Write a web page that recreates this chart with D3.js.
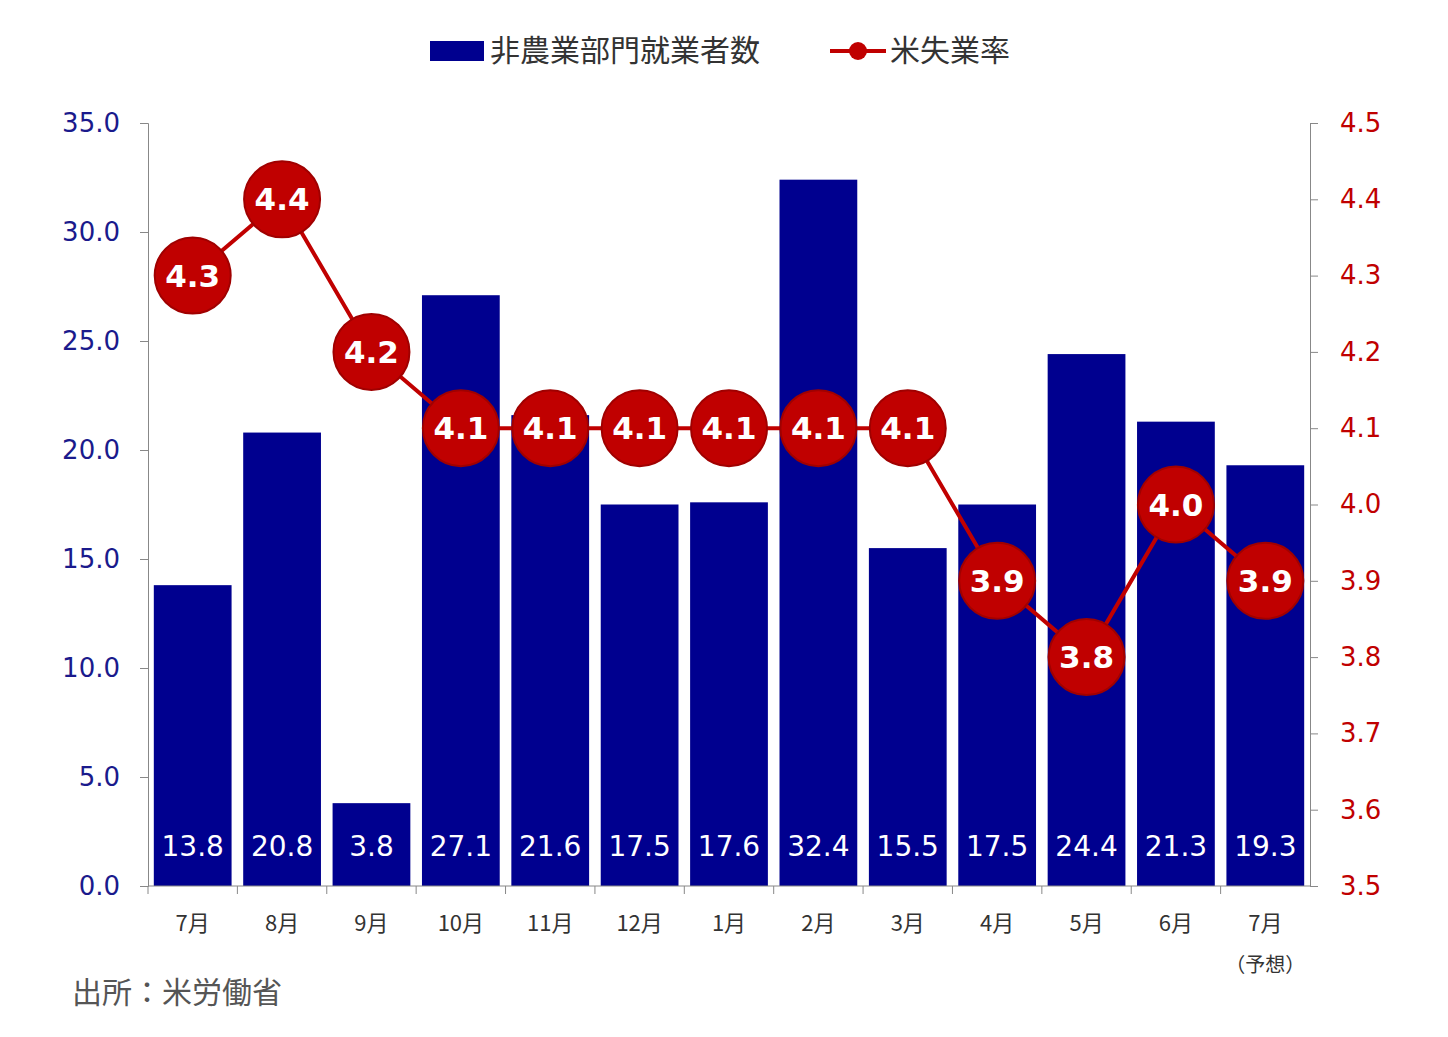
<!DOCTYPE html><html><head><meta charset="utf-8">
<script src="https://cdn.jsdelivr.net/npm/d3@7"></script>
<style>body{margin:0;background:#fff}</style></head><body>
<svg id="c" width="1448" height="1037"></svg>
<script>
const months=["7月","8月","9月","10月","11月","12月","1月","2月","3月","4月","5月","6月","7月"];
const payrolls=[13.8,20.8,3.8,27.1,21.6,17.5,17.6,32.4,15.5,17.5,24.4,21.3,19.3];
const unemp=[4.3,4.4,4.2,4.1,4.1,4.1,4.1,4.1,4.1,3.9,3.8,4.0,3.9];
const leftTicks=[0,5,10,15,20,25,30,35];
const rightTicks=[3.5,3.6,3.7,3.8,3.9,4.0,4.1,4.2,4.3,4.4,4.5];
const svg=d3.select("#c");
const F="'DejaVu Sans',Verdana,sans-serif", J="'Noto Sans CJK JP',sans-serif";
const L=148,R=1310,T=123,B=886;
const x=d3.scaleBand().domain(d3.range(months.length)).range([L,R]).paddingInner(0.13).paddingOuter(0.065);
const yL=d3.scaleLinear().domain([0,35]).range([B,T]);
const yR=d3.scaleLinear().domain([3.5,4.5]).range([B,T]);
const blue="#00008f",red="#c00000";
svg.selectAll(".bar").data(payrolls).enter().append("rect").attr("x",(d,i)=>x(i)).attr("width",x.bandwidth()).attr("y",d=>yL(d)).attr("height",d=>B-yL(d)).attr("fill",blue);
svg.selectAll(".bl").data(payrolls).enter().append("text").attr("x",(d,i)=>x(i)+x.bandwidth()/2).attr("y",856).attr("text-anchor","middle").attr("fill","#fff").attr("font-family",F).attr("font-size",28).text(d=>d.toFixed(1));
// axes
const gl=svg.append("g").attr("transform",`translate(${L},0)`).call(d3.axisLeft(yL).tickValues(leftTicks).tickSize(8).tickFormat(d3.format(".1f")));
gl.selectAll("text").attr("fill","#1a1a8c").attr("font-family",F).attr("font-size",26).attr("x",-28);
const gr=svg.append("g").attr("transform",`translate(${R},0)`).call(d3.axisRight(yR).tickValues(rightTicks).tickSize(8).tickFormat(d3.format(".1f")));
gr.selectAll("text").attr("fill",red).attr("font-family",F).attr("font-size",26).attr("x",30);
[gl,gr].forEach(g=>{g.selectAll("line,path").attr("stroke","#888");});
svg.append("line").attr("x1",L).attr("x2",R).attr("y1",B).attr("y2",B).attr("stroke","#888");
const step=x.step();
months.forEach((m,i)=>{
  const bx=x(i)-x.paddingInner()*step/2;
  svg.append("line").attr("x1",bx).attr("x2",bx).attr("y1",B).attr("y2",B+8).attr("stroke","#888");
  svg.append("text").attr("x",x(i)+x.bandwidth()/2).attr("y",931).attr("text-anchor","middle").attr("font-family",J).attr("font-size",22).attr("fill","#333").text(m);
});
svg.append("text").attr("x",x(12)+x.bandwidth()/2).attr("y",972).attr("text-anchor","middle").attr("font-family",J).attr("font-size",20).attr("fill","#333").text("（予想）");
// line
const cx=i=>x(i)+x.bandwidth()/2;
svg.append("path").datum(unemp).attr("d",d3.line().x((d,i)=>cx(i)).y(d=>yR(d))).attr("fill","none").attr("stroke",red).attr("stroke-width",4);
const pts=svg.selectAll(".pt").data(unemp).enter().append("g");
pts.append("circle").attr("cx",(d,i)=>cx(i)).attr("cy",d=>yR(d)).attr("r",38).attr("fill",red).attr("stroke","#a00000").attr("stroke-width",2);
pts.append("text").attr("x",(d,i)=>cx(i)).attr("y",d=>yR(d)+11).attr("text-anchor","middle").attr("fill","#fff").attr("font-family",F).attr("font-weight","bold").attr("font-size",31).text(d=>d.toFixed(1));
// legend
svg.append("rect").attr("x",430).attr("y",41).attr("width",54).attr("height",20).attr("fill",blue);
svg.append("text").attr("x",490).attr("y",61).attr("font-family",J).attr("font-size",30).attr("fill","#333").text("非農業部門就業者数");
svg.append("line").attr("x1",830).attr("x2",886).attr("y1",51).attr("y2",51).attr("stroke",red).attr("stroke-width",4);
svg.append("circle").attr("cx",858).attr("cy",51).attr("r",9).attr("fill",red);
svg.append("text").attr("x",890).attr("y",61).attr("font-family",J).attr("font-size",30).attr("fill","#333").text("米失業率");
svg.append("text").attr("x",72).attr("y",1003).attr("font-family",J).attr("font-size",30).attr("fill","#555").text("出所：米労働省");
</script></body></html>
